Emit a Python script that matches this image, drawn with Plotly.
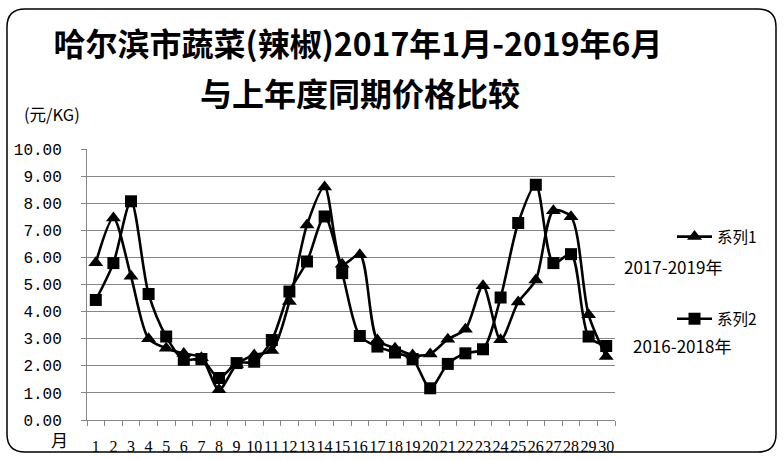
import plotly.graph_objects as go

months = [str(i) for i in range(1, 31)]
series1_name = "系列1"
series2_name = "系列2"
series1 = [5.8, 7.45, 5.3, 3.0, 2.65, 2.45, 2.3, 1.12, 2.05, 2.4,
           2.56, 4.37, 7.2, 8.6, 5.75, 6.1, 2.95, 2.65, 2.4, 2.44,
           2.98, 3.35, 4.95, 2.96, 4.35, 5.17, 7.72, 7.5, 3.88, 2.34]
series2 = [4.43, 5.79, 8.07, 4.65, 3.08, 2.22, 2.25, 1.55, 2.1, 2.15,
           2.95, 4.74, 5.85, 7.51, 5.42, 3.10, 2.71, 2.49, 2.25, 1.17,
           2.07, 2.46, 2.61, 4.52, 7.27, 8.68, 5.79, 6.12, 3.08, 2.73]
y_ticks = [i for i in range(0, 11)]
title_line1 = "哈尔滨市蔬菜(辣椒)2017年1月-2019年6月"
title_line2 = "与上年度同期价格比较"
unit_label = "(元/KG)"
x_label = "月"
series1_period = "2017-2019年"
series2_period = "2016-2018年"

W, H = 784, 460
ML, MR, MT, MB = 87, 169, 149, 40
PW = W - ML - MR
PH = H - MT - MB


def px(x):
    return (x - ML) / PW


def py(y):
    return (H - MB - y) / PH


cjk = "Noto Sans CJK SC"

fig = go.Figure()
fig.add_trace(go.Scatter(
    x=months, y=series1, name=series1_name, mode="lines+markers",
    line=dict(color="black", width=2.6, shape="spline", smoothing=0.8),
    marker=dict(symbol="triangle-up", size=13, color="black"),
    legendgroup="g1",
))
fig.add_trace(go.Scatter(
    x=months, y=series2, name=series2_name, mode="lines+markers",
    line=dict(color="black", width=2.6, shape="spline", smoothing=0.8),
    marker=dict(symbol="square", size=12, color="black"),
    legendgroup="g2",
))

# rounded chart border
L, R, T, B, r = 7, 776, 9, 452, 18
pts = [
    ("M", (L + r, T)), ("L", (R - r, T)), ("Q", (R, T), (R, T + r)),
    ("L", (R, B - r)), ("Q", (R, B), (R - r, B)), ("L", (L + r, B)),
    ("Q", (L, B), (L, B - r)), ("L", (L, T + r)), ("Q", (L, T), (L + r, T)),
]
path = ""
for item in pts:
    cmd = item[0]
    coords = " ".join(f"{px(a):.5f},{py(b):.5f}" for a, b in item[1:])
    path += f"{cmd}{coords} "
path += "Z"

fig.update_layout(
    width=W, height=H,
    margin=dict(l=ML, r=MR, t=MT, b=MB, autoexpand=False),
    paper_bgcolor="white", plot_bgcolor="white",
    title=dict(
        text=title_line1,
        font=dict(family=cjk, size=32, color="black", weight="bold"),
        x=358 / W, xanchor="center", xref="container",
        y=1 - 45 / H, yanchor="middle", yref="container",
    ),
    xaxis=dict(
        type="category", range=[-0.5, 29.5], dtick=1, tickangle=0,
        showline=True, linecolor="#868686", linewidth=1,
        ticks="outside", ticklen=5, tickcolor="#868686", tickson="boundaries",
        showgrid=False, zeroline=False,
        tickfont=dict(family="Liberation Serif", size=16, color="black"),
        ticklabelstandoff=12,
    ),
    yaxis=dict(
        range=[0, 10], tickvals=y_ticks, tickformat=".2f",
        showline=True, linecolor="#868686", linewidth=1,
        ticks="outside", ticklen=5, tickcolor="#868686",
        showgrid=True, gridcolor="#868686", gridwidth=1, zeroline=False,
        tickfont=dict(family="Liberation Mono", size=16, color="black"),
        ticklabelstandoff=16,
    ),
    showlegend=True,
    legend=dict(
        x=px(672), xanchor="left", y=py(220), yanchor="top",
        bgcolor="rgba(0,0,0,0)", tracegroupgap=59,
        font=dict(family=cjk, size=15.5, color="black"), itemwidth=35,
    ),
    shapes=[dict(type="path", path=path, xref="paper", yref="paper",
                 line=dict(color="black", width=1.5), layer="below")],
    annotations=[
        dict(text=title_line2, x=px(360), y=py(92), xref="paper", yref="paper",
             xanchor="center", yanchor="middle", showarrow=False,
             font=dict(family=cjk, size=32, color="black", weight="bold")),
        dict(text=unit_label, x=px(52), y=py(114), xref="paper", yref="paper",
             xanchor="center", yanchor="middle", showarrow=False,
             font=dict(family=cjk, size=16.5, color="black")),
        dict(text=x_label, x=px(59), y=py(440), xref="paper", yref="paper",
             xanchor="center", yanchor="middle", showarrow=False,
             font=dict(family=cjk, size=17, color="black")),
        dict(text=series1_period, x=px(673), y=py(266), xref="paper", yref="paper",
             xanchor="center", yanchor="middle", showarrow=False,
             font=dict(family=cjk, size=17, color="black")),
        dict(text=series2_period, x=px(682), y=py(345), xref="paper", yref="paper",
             xanchor="center", yanchor="middle", showarrow=False,
             font=dict(family=cjk, size=17, color="black")),
    ],
)

fig.write_html("out.html", config={"displayModeBar": False},
               post_script="document.body.style.margin='0';")
